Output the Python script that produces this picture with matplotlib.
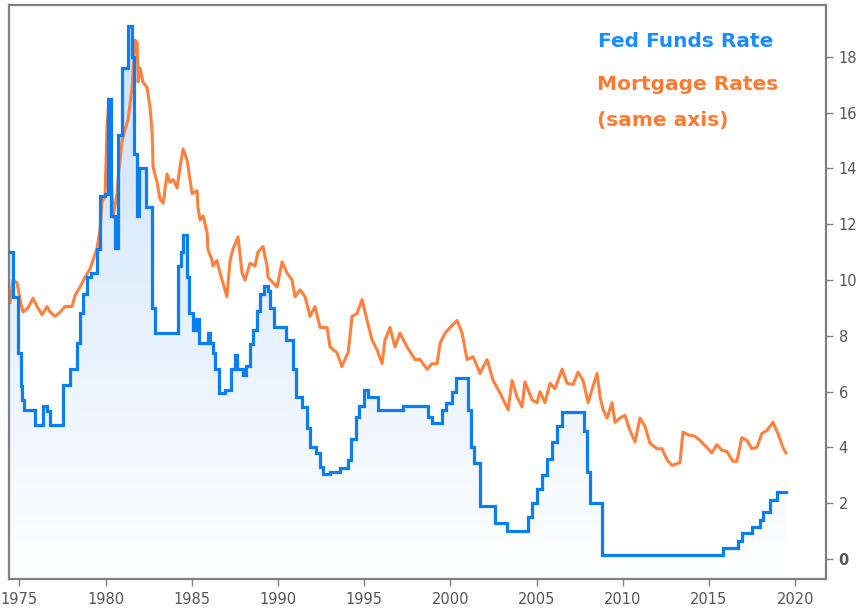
import matplotlib
matplotlib.use("Agg")
import matplotlib.pyplot as plt
import numpy as np
from matplotlib.patches import Polygon

# Fed funds rate, step values (start year, rate)
fed_years = [1974.40, 1974.63, 1974.92, 1975.10, 1975.16, 1975.27, 1975.91, 1976.37,
             1976.61, 1976.78, 1977.53, 1977.94, 1978.35, 1978.52, 1978.69, 1978.93,
             1979.16, 1979.51, 1979.68, 1979.97, 1980.14, 1980.32, 1980.55, 1980.72,
             1980.96, 1981.31, 1981.54, 1981.65, 1981.83, 1981.94, 1982.35, 1982.70,
             1982.87, 1984.21, 1984.38, 1984.50, 1984.73, 1984.84, 1985.08, 1985.25,
             1985.42, 1985.94, 1986.06, 1986.24, 1986.35, 1986.58, 1986.93, 1987.28,
             1987.51, 1987.63, 1987.97, 1988.15, 1988.38, 1988.56, 1988.79, 1988.96,
             1989.19, 1989.42, 1989.54, 1989.77, 1990.47, 1990.87, 1991.05, 1991.40,
             1991.69, 1991.86, 1992.21, 1992.44, 1992.62, 1993.02, 1993.60, 1994.07,
             1994.24, 1994.53, 1994.70, 1994.99, 1995.22, 1995.80, 1997.25, 1998.70,
             1998.94, 1999.52, 1999.75, 2000.10, 2000.33, 2001.02, 2001.20, 2001.37,
             2001.72, 2002.59, 2003.29, 2004.51, 2004.74, 2005.03, 2005.32, 2005.61,
             2005.90, 2006.19, 2006.48, 2007.76, 2007.93, 2008.11, 2008.80, 2015.82,
             2016.69, 2016.92, 2017.50, 2017.96, 2018.13, 2018.54, 2018.95]
fed_rate = [11.0, 9.4, 7.4, 6.2, 5.7, 5.35, 4.8, 5.5,
            5.3, 4.8, 6.25, 6.8, 7.75, 8.8, 9.5, 10.1,
            10.25, 11.1, 13.0, 13.1, 16.5, 12.3, 11.15, 15.2,
            17.6, 19.1, 18.0, 14.5, 12.3, 14.0, 12.6, 9.0,
            8.1, 10.5, 11.0, 11.6, 10.1, 8.8, 8.2, 8.6,
            7.75, 8.1, 7.75, 7.4, 6.8, 5.95, 6.05, 6.8,
            7.3, 6.8, 6.6, 6.9, 7.7, 8.2, 8.9, 9.5,
            9.8, 9.6, 9.0, 8.3, 7.85, 6.8, 5.8, 5.45,
            4.7, 4.0, 3.8, 3.3, 3.05, 3.1, 3.25, 3.55,
            4.3, 5.1, 5.5, 6.05, 5.8, 5.35, 5.5, 5.1,
            4.87, 5.35, 5.6, 6.0, 6.5, 5.35, 4.0, 3.45,
            1.9, 1.3, 1.0, 1.5, 2.0, 2.5, 3.0, 3.6,
            4.2, 4.75, 5.25, 4.6, 3.1, 2.0, 0.15, 0.4,
            0.65, 0.93, 1.15, 1.4, 1.7, 2.1, 2.4]
fed_end = 2019.47

# 30-year mortgage rate
mort_years = [1974.46, 1974.63, 1974.87, 1975.04, 1975.21, 1975.50, 1975.79, 1976.03,
              1976.32, 1976.61, 1976.78, 1977.07, 1977.36, 1977.65, 1978.06, 1978.23,
              1978.52, 1978.81, 1979.10, 1979.27, 1979.51, 1979.68, 1979.80, 1979.97,
              1980.09, 1980.20, 1980.32, 1980.43, 1980.67, 1980.72, 1980.96, 1981.13,
              1981.31, 1981.54, 1981.71, 1981.83, 1981.89, 1982.00, 1982.17, 1982.41,
              1982.58, 1982.70, 1982.76, 1982.99, 1983.16, 1983.34, 1983.57, 1983.74,
              1983.92, 1984.15, 1984.32, 1984.50, 1984.73, 1985.02, 1985.31, 1985.36,
              1985.48, 1985.66, 1985.89, 1985.94, 1986.18, 1986.23, 1986.46, 1986.64,
              1986.81, 1987.04, 1987.22, 1987.39, 1987.68, 1987.92, 1988.09, 1988.38,
              1988.67, 1988.84, 1989.13, 1989.37, 1989.42, 1989.71, 1989.95, 1990.24,
              1990.53, 1990.82, 1990.99, 1991.28, 1991.57, 1991.86, 1992.15, 1992.44,
              1992.85, 1993.02, 1993.42, 1993.71, 1994.07, 1994.30, 1994.59, 1994.88,
              1995.17, 1995.46, 1995.75, 1996.04, 1996.21, 1996.50, 1996.79, 1997.08,
              1997.49, 1997.95, 1998.24, 1998.65, 1998.94, 1999.23, 1999.41, 1999.70,
              1999.99, 2000.39, 2000.68, 2000.97, 2001.32, 2001.72, 2002.13, 2002.48,
              2002.88, 2003.35, 2003.58, 2003.87, 2004.16, 2004.33, 2004.74, 2005.03,
              2005.20, 2005.49, 2005.78, 2006.07, 2006.48, 2006.77, 2007.12, 2007.41,
              2007.70, 2007.99, 2008.28, 2008.51, 2008.69, 2008.86, 2009.09, 2009.38,
              2009.55, 2009.84, 2010.13, 2010.42, 2010.71, 2011.00, 2011.29, 2011.58,
              2011.99, 2012.28, 2012.57, 2012.86, 2013.32, 2013.49, 2013.78, 2014.19,
              2014.48, 2014.88, 2015.17, 2015.46, 2015.75, 2016.04, 2016.39, 2016.62,
              2016.91, 2017.20, 2017.49, 2017.78, 2018.07, 2018.36, 2018.71, 2019.00,
              2019.29, 2019.47]
mort_rate = [9.2, 10.0, 9.9, 9.3, 8.85, 9.0, 9.35, 9.05,
             8.75, 9.05, 8.85, 8.7, 8.85, 9.05, 9.05, 9.45,
             9.75, 10.1, 10.4, 10.7, 11.15, 11.8, 12.8, 13.0,
             15.5, 16.45, 13.95, 12.25, 13.1, 13.6, 15.0, 15.4,
             15.75, 16.9, 18.6, 18.5, 17.1, 17.6, 17.1, 16.9,
             16.2, 15.3, 14.05, 13.5, 12.9, 12.75, 13.8, 13.5,
             13.6, 13.3, 14.05, 14.7, 14.3, 13.1, 13.2, 12.6,
             12.15, 12.3, 11.7, 11.1, 10.7, 10.5, 10.7, 10.25,
             9.9, 9.4, 10.7, 11.1, 11.55, 10.25, 10.0, 10.6,
             10.5, 11.0, 11.2, 10.5, 10.1, 9.9, 9.75, 10.65,
             10.25, 10.0, 9.4, 9.65, 9.4, 8.7, 9.05, 8.3,
             8.3, 7.6, 7.4, 6.9, 7.4, 8.7, 8.8, 9.3,
             8.55, 7.85, 7.5, 7.0, 7.85, 8.3, 7.6, 8.1,
             7.6, 7.15, 7.15, 6.8, 7.0, 7.0, 7.75, 8.1,
             8.3, 8.55, 8.1, 7.15, 7.25, 6.65, 7.15, 6.4,
             5.95, 5.35, 6.4, 5.8, 5.45, 6.35, 5.7, 5.6,
             6.0, 5.6, 6.3, 6.1, 6.8, 6.3, 6.25, 6.7,
             6.4, 5.6, 6.2, 6.65, 5.8, 5.35, 5.05, 5.6,
             4.9, 5.05, 5.15, 4.6, 4.2, 5.05, 4.75, 4.15,
             3.95, 3.95, 3.55, 3.35, 3.45, 4.55, 4.45, 4.4,
             4.25, 4.0, 3.8, 4.1, 3.9, 3.85, 3.5, 3.5,
             4.35, 4.25, 3.95, 4.0, 4.5, 4.6, 4.9, 4.5,
             4.0, 3.8]

y_ticks = [0, 2, 4, 6, 8, 10, 12, 14, 16, 18]
x_ticks = [1975, 1980, 1985, 1990, 1995, 2000, 2005, 2010, 2015, 2020]

blue = '#0a7ff5'
orange = '#ff7f3c'
gray = '#808080'

fig = plt.figure(figsize=(8.58, 6.11), dpi=100)
ax = fig.add_axes([9 / 858, 1 - 579 / 611, 817 / 858, 574 / 611])
xmin, xmax = 1974.40, 2021.79
ymin, ymax = -0.72, 19.86
ax.set_xlim(xmin, xmax)
ax.set_ylim(ymin, ymax)

# step outline of the fed funds rate
fx = list(fed_years) + [fed_end]
fy = list(fed_rate) + [fed_rate[-1]]
sx, sy = [], []
for i in range(len(fed_rate)):
    sx += [fx[i], fx[i + 1]]
    sy += [fy[i], fy[i]]

# gradient fill under the blue line
verts = [(sx[0], ymin)] + list(zip(sx, sy)) + [(sx[-1], ymin)]
clip = Polygon(verts, closed=True, facecolor='none', edgecolor='none', transform=ax.transData)
ax.add_patch(clip)
top_c = np.array([0.79, 0.88, 0.98])
bot_c = np.array([1.0, 1.0, 1.0])
t = np.linspace(0, 1, 256)[:, None]
grad = top_c * (1 - t) + bot_c * t
grad = grad[:, None, :]
im = ax.imshow(grad, extent=[xmin, xmax, ymin, 19.5], aspect='auto', origin='upper',
               interpolation='bilinear', zorder=1)
im.set_clip_path(clip)
ax.set_xlim(xmin, xmax)
ax.set_ylim(ymin, ymax)

ax.plot(sx, sy, color=blue, lw=2.3, solid_joinstyle='miter', zorder=3)
ax.plot(mort_years, mort_rate, color=orange, lw=2.2, zorder=2)

ax.yaxis.tick_right()
ax.set_yticks(y_ticks)
ax.set_yticklabels([str(v) for v in y_ticks])
ax.set_xticks(x_ticks)
ax.set_xticklabels([str(v) for v in x_ticks])
ax.tick_params(axis='both', colors=gray, labelcolor='#555555', labelsize=10.5,
               length=5, width=1, pad=4)
ax.get_yticklabels()[0].set_fontweight('bold')
for s in ax.spines.values():
    s.set_color(gray)
    s.set_linewidth(1.6)

fig.text(598 / 858, 1 - 47 / 611, 'Fed Funds Rate', color='#1a8cff', fontsize=14.5,
         fontweight='bold', va='baseline', ha='left')
fig.text(597 / 858, 1 - 90 / 611, 'Mortgage Rates', color='#ff7a2e', fontsize=14.5,
         fontweight='bold', va='baseline', ha='left')
fig.text(597 / 858, 1 - 126 / 611, '(same axis)', color='#ff7a2e', fontsize=14.5,
         fontweight='bold', va='baseline', ha='left')

fig.savefig('out.png', dpi=100)
